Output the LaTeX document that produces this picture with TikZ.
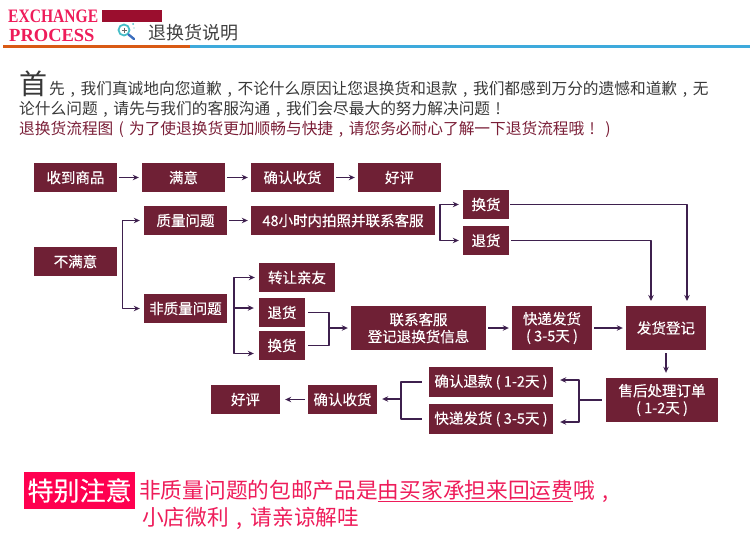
\documentclass[tikz,border=0pt]{standalone}
\usepackage{fontspec}
\setmainfont{Noto Sans CJK SC}
\newfontfamily\headfont{Liberation Serif}
\newfontfamily\boxfont[FakeBold=0.3]{Noto Sans CJK SC}
\usetikzlibrary{arrows.meta}
\definecolor{boxred}{RGB}{111,32,53}
\definecolor{linepurple}{RGB}{62,32,78}
\definecolor{darkred}{RGB}{122,30,55}
\definecolor{pinkred}{RGB}{238,28,90}
\definecolor{notered}{RGB}{255,0,80}
\definecolor{ruleorange}{RGB}{217,90,20}
\definecolor{ruleblue}{RGB}{62,170,220}
\definecolor{headbar}{RGB}{155,14,46}
\definecolor{lensteal}{RGB}{70,190,200}
\definecolor{lensblue}{RGB}{60,110,190}
\newcommand{\fw}[1]{\makebox[1em]{#1}}
\tikzset{
stepbox/.style={fill=boxred,text=white,inner sep=0pt,align=center,font=\boxfont\fontsize{14.5}{17}\selectfont},
flow/.style={draw=linepurple,line width=1.2pt,-{Stealth[length=6pt,width=5.5pt]}},
flowbar/.style={draw=linepurple,line width=1.2pt},
bodytext/.style={anchor=base west,inner sep=0pt,text=black!78,font=\fontsize{15.7}{16}\selectfont},
notetext/.style={anchor=base west,inner sep=0pt,text=pinkred,font=\fontsize{21.7}{22}\selectfont},
}
\newcommand{\stepat}[6]{\node[stepbox,minimum width=#4pt-#2pt,minimum height=#5pt-#3pt] (#1) at ({(#2+#4)/2},{(#3+#5)/2}) {#6};}
\begin{document}
\begin{tikzpicture}[x=1pt,y=-1pt,line join=round,>=stealth]
\useasboundingbox (0,0) rectangle (750,538);
% header
\node[anchor=base west,inner sep=0pt,text=pinkred,font=\headfont\bfseries\fontsize{19}{19}\selectfont] (exchange) at (8,22) {\scalebox{.82}[1]{EXCHANGE}};
\node[anchor=base west,inner sep=0pt,text=pinkred,font=\headfont\bfseries\fontsize{18.5}{18.5}\selectfont] (process) at (9,41) {PROCESS};
\fill[headbar] (102,10) rectangle (162,22);
\draw[lensteal,line width=1.8pt] (124,30) circle (5.5);
\draw[black!60,line width=.7pt] (121.5,30)--(126.5,30) (124,27.5)--(124,32.5);
\draw[lensblue,line width=2.4pt,line cap=round] (128.5,34.5)--(134,39);
\fill[lensteal] (133,24) circle (1) (134,28) circle (.7);
\node[anchor=base west,inner sep=0pt,text=black!75,font=\fontsize{18}{18}\selectfont] (title) at (148,39) {退换货说明};
\fill[ruleorange] (3,45) rectangle (190,47.5);
\fill[ruleblue] (190,45) rectangle (750,47.5);
% intro
\node[anchor=base west,inner sep=0pt,text=black!78,font=\fontsize{28}{28}\selectfont] (first) at (19,94) {首};
\node[bodytext] (line1) at (49,94) {先\fw{,}我们真诚地向您道歉\fw{,}不论什么原因让您退换货和退款\fw{,}我们都感到万分的遗憾和道歉\fw{,}无};
\node[bodytext] (line2) at (19,114) {论什么问题\fw{,}请先与我们的客服沟通\fw{,}我们会尽最大的努力解决问题\fw{!}};
\node[bodytext,text=darkred] (line3) at (19,134) {退换货流程图\fw{(}为了使退换货更加顺畅与快捷\fw{,}请您务必耐心了解一下退货流程哦\fw{!}\fw{)}};
% boxes
\stepat{got}{34}{163}{117}{192}{收到商品}
\stepat{happy}{142}{163}{225}{192}{满意}
\stepat{confirm}{251}{163}{334}{192}{确认收货}
\stepat{praise}{358}{163}{441}{192}{好评}
\stepat{quality}{144}{206}{227}{235}{质量问题}
\stepat{photo}{251}{206}{435}{235}{48小时内拍照并联系客服}
\stepat{swaptop}{463}{190}{509}{219}{换货}
\stepat{backtop}{463}{226}{509}{255}{退货}
\stepat{unhappy}{34}{247}{117}{276}{不满意}
\stepat{other}{144}{294}{227}{323}{非质量问题}
\stepat{gift}{259}{263}{335}{292}{转让亲友}
\stepat{back}{259}{298}{305}{327}{退货}
\stepat{swap}{259}{331}{305}{360}{换货}
\stepat{service}{351}{306}{486}{350}{联系客服\\登记退换货信息}
\stepat{express}{512}{306}{592}{350}{快递发货\\( 3-5天 )}
\stepat{record}{626}{306}{706}{350}{发货登记}
\stepat{order}{606}{378}{718}{422}{售后处理订单\\( 1-2天 )}
\stepat{refund}{429}{367}{553}{397}{确认退款 ( 1-2天 )}
\stepat{resend}{429}{404}{553}{434}{快递发货 ( 3-5天 )}
\stepat{confirmb}{308}{385}{377}{414}{确认收货}
\stepat{praiseb}{211}{385}{280}{414}{好评}
% junctions
\coordinate (unhappybus) at (122.5,261.5);
\coordinate (photobus) at (440,222);
\coordinate (otherbus) at (234,308);
\coordinate (backbus) at (329,328);
\coordinate (orderbus) at (579,400);
\coordinate (refundbus) at (401,399);
\foreach \a/\b in {got/happy,happy/confirm,confirm/praise,quality/photo,service/express,express/record}
\draw[flow,shorten <=2pt,shorten >=3pt] (\a) -- (\b);
\draw[flow,shorten <=3pt,shorten >=5pt] (record) -- (record|-order.north);
\draw[flow,shorten <=3pt,shorten >=5pt] (confirmb) -- (praiseb);
\foreach \b/\e in {unhappybus/quality,unhappybus/other,photobus/swaptop,photobus/backtop,otherbus/gift}
\draw[flow,shorten >=4pt] (\b) |- (\e);
\draw[flow,shorten >=5pt] (otherbus) -- (otherbus-|back.west);
\draw[flow,shorten >=5pt] (otherbus) |- ([yshift=-8pt]swap.west);
\foreach \b in {back,swap}
\draw[flowbar,shorten <=3pt] (\b.east) -| (backbus);
\draw[flow,shorten >=3pt] (backbus) -- (backbus-|service.west);
\draw[flow,shorten <=1pt,shorten >=5pt] (swaptop.east) -| (687,306);
\draw[flow,shorten <=2pt,shorten >=5pt] (backtop.east) -| (651,306);
\draw[flowbar,shorten <=4pt] (orderbus-|order.west) -- (orderbus);
\draw[flow,shorten >=7pt] (orderbus) |- ([yshift=2pt]refund.east);
\draw[flow,shorten >=7pt] (orderbus) |- ([yshift=-3pt]resend.east);
\foreach \s in {refund,resend}
\draw[flowbar,shorten <=7pt] (\s.west) -| (refundbus);
\draw[flow,shorten >=5pt] (refundbus) -- (refundbus-|confirmb.east);
% note
\node[fill=notered,text=white,inner sep=0pt,minimum width=111pt,minimum height=37pt,font=\boxfont\fontsize{26}{26}\selectfont] (note) at (79.5,490.5) {特别注意};
\node[notetext] (notea) at (139,498) {非质量问题的包邮产品是\underline{由买家承担来回运费}哦\fw{,}};
\node[notetext] (noteb) at (142,525) {小店微利\fw{,}请亲谅解哇};
\end{tikzpicture}
\end{document}
